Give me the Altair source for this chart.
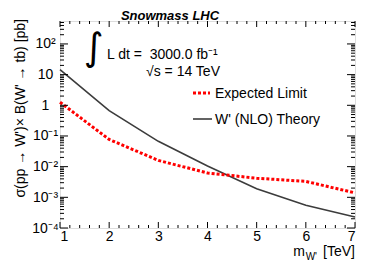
import json
import altair as alt
import pandas as pd

# ---- data ----
mass = [1, 2, 3, 4, 5, 6, 7]
theory = [14.5, 0.67, 0.067, 0.0105, 0.0019, 0.00055, 0.00023]
limit = [1.26, 0.077, 0.016, 0.0062, 0.0042, 0.0033, 0.0014]

x_major = [1, 2, 3, 4, 5, 6, 7]
y_major = [1e-4, 1e-3, 1e-2, 1e-1, 1, 10, 100]
y_labels = ["10⁻⁴", "10⁻³", "10⁻²", "10⁻¹", "1", "10", "10²"]

title_text = "Snowmass LHC"
lumi_text = "L dt =\u00a0 3000.0 fb⁻¹"
energy_text = "√s = 14 TeV"
legend_labels = ["Expected Limit", "W' (NLO) Theory"]
y_title = "σ(pp → W')× B(W' → tb) [pb]"

W, H = 295, 207
FONT = "Liberation Sans"
YMAX = 560

x_minor = [round(1 + 0.2 * i, 2) for i in range(31) if i % 5 != 0]
y_minor = [m * 10.0 ** e for e in range(-4, 3) for m in range(2, 10) if m * 10.0 ** e < YMAX]

xscale = alt.Scale(domain=[1, 7], nice=False, zero=False)
yscale = alt.Scale(type="log", domain=[1e-4, YMAX], nice=False)

curves = pd.DataFrame({
    "m": mass * 2,
    "sigma": limit + theory,
    "series": ["limit"] * len(mass) + ["theory"] * len(mass),
})

label_expr = json.dumps(y_labels) + "[round(log(datum.value)/LN10)+4]"

xaxis = alt.Axis(values=x_major, ticks=False, domain=False, grid=False, labelPadding=1,
                 labelFontSize=14, labelFont=FONT, labelColor="#000", title=None,
                 labelBaseline="top", format="d")
yaxis = alt.Axis(values=y_major, ticks=False, domain=False, grid=False, labelPadding=15,
                 labelFontSize=14, labelFont=FONT, labelColor="#000", title=None,
                 labelAlign="center", labelBaseline="middle", labelExpr=label_expr)

theory_line = alt.Chart(curves).transform_filter(alt.datum.series == "theory").mark_line(
    color="#3c3c3c", strokeWidth=1.6
).encode(x=alt.X("m:Q", scale=xscale, axis=xaxis), y=alt.Y("sigma:Q", scale=yscale, axis=yaxis))

limit_line = alt.Chart(curves).transform_filter(alt.datum.series == "limit").mark_line(
    color="#ff0000", strokeWidth=3, strokeDash=[3, 2]
).encode(x=alt.X("m:Q", scale=xscale, axis=xaxis), y=alt.Y("sigma:Q", scale=yscale, axis=yaxis))


def xticks(vals, length):
    d = pd.DataFrame({"m": vals})
    b = alt.Chart(d).mark_rule(color="#000", strokeWidth=1).encode(
        x=alt.X("m:Q", scale=xscale, axis=xaxis), y=alt.value(H), y2=alt.value(H - length))
    t = alt.Chart(d).mark_rule(color="#000", strokeWidth=1).encode(
        x=alt.X("m:Q", scale=xscale, axis=xaxis), y=alt.value(0), y2=alt.value(length))
    return [b, t]


def yticks(vals, length):
    d = pd.DataFrame({"sigma": vals})
    l = alt.Chart(d).mark_rule(color="#000", strokeWidth=1).encode(
        y=alt.Y("sigma:Q", scale=yscale, axis=yaxis), x=alt.value(0), x2=alt.value(length))
    r = alt.Chart(d).mark_rule(color="#000", strokeWidth=1).encode(
        y=alt.Y("sigma:Q", scale=yscale, axis=yaxis), x=alt.value(W), x2=alt.value(W - length))
    return [l, r]


one = pd.DataFrame({"a": [0]})


def txt(text, x, y, size=14, align="left", baseline="alphabetic", **kw):
    return alt.Chart(one).mark_text(text=text, fontSize=size, font=kw.pop("font", FONT),
                                    align=align, baseline=baseline, color="#000", **kw).encode(
        x=alt.value(x), y=alt.value(y))


annotations = [
    txt(title_text, 110, -1, size=13, align="center", fontWeight="bold", fontStyle="italic"),
    txt("∫", 34, 28, size=38, align="center", baseline="middle", font="DejaVu Sans"),
    txt(lumi_text, 47, 38),
    txt(energy_text, 86, 55),
    txt(legend_labels[0], 155, 77),
    txt(legend_labels[1], 155, 103),
    txt(y_title, -39, -2, size=14, align="right", baseline="middle", angle=270),
    txt("[TeV]", 295, 235, align="right"),
    txt("W'", 257, 239, size=10, align="right"),
    txt("m", 245, 235, align="right"),
]

legend_lines = [
    alt.Chart(one).mark_rule(color="#ff0000", strokeWidth=3, strokeDash=[3, 2]).encode(
        x=alt.value(133), x2=alt.value(150), y=alt.value(72)),
    alt.Chart(one).mark_rule(color="#3c3c3c", strokeWidth=1.6).encode(
        x=alt.value(133), x2=alt.value(152), y=alt.value(98)),
]

layers = [theory_line, limit_line]
layers += xticks(x_major, 6) + xticks(x_minor, 3)
layers += yticks(y_major, 8) + yticks(y_minor, 4)
layers += legend_lines + annotations

chart = alt.layer(*layers).properties(
    width=W, height=H,
    autosize=alt.AutoSizeParams(type="none"),
    padding={"left": 52, "top": 13, "right": 11, "bottom": 38},
).configure_view(stroke="#000", strokeWidth=1).configure(background="white")

chart.save("out.html", embed_options={"renderer": "svg", "actions": False})
